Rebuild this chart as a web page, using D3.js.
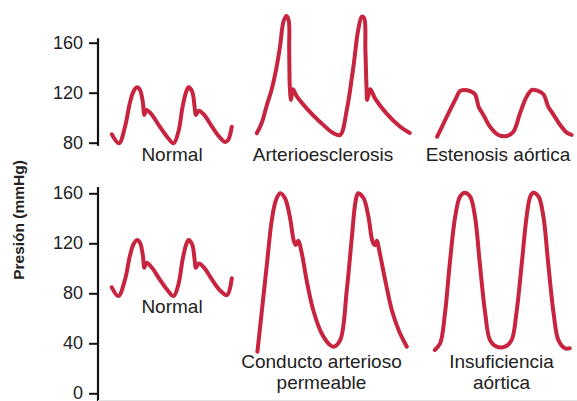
<!DOCTYPE html>
<html><head><meta charset="utf-8">
<script src="https://cdn.jsdelivr.net/npm/d3@7"></script>
<style>
html,body{margin:0;padding:0;background:#fff;}
svg{display:block;font-family:"Liberation Sans",Arial,Helvetica,sans-serif;}
</style></head>
<body><svg id="c" width="577" height="401"></svg>
<script>
// ---- data (time in s, pressure in mmHg) ----
const yLabel = "Presión (mmHg)";
const topTicks = [80, 120, 160];
const bottomTicks = [0, 40, 80, 120, 160];

const topLabels = ["Normal", "Arterioesclerosis", "Estenosis aórtica"];
const bottomLabels = [["Normal"], ["Conducto arterioso", "permeable"], ["Insuficiencia", "aórtica"]];

const normalTopT = [0.03,0.15,0.25,0.33,0.39,0.45,0.50,0.55,0.57,0.61,0.70,0.83,0.95,1.06,1.14,1.21,1.27,1.31,1.37,1.41,1.43,1.48,1.57,1.70,1.82,1.92,1.97,2.03];
const normalTopP = [86.7,79.5,92.8,111.5,120.8,124.3,122.2,111.5,102.2,106.2,102.2,92.8,84.8,79.5,88.8,108.8,120.8,124.3,120.8,108.8,102.2,105.6,102.2,92.8,84.8,80.5,82.2,92.8];

const arterioT = [0.03,0.11,0.19,0.28,0.35,0.42,0.47,0.52,0.56,0.57,0.58,0.60,0.63,0.70,0.86,1.08,1.31,1.42,1.53,1.64,1.72,1.78,1.82,1.84,1.86,1.87,1.92,2.00,2.19,2.42,2.58];
const arterioP = [87.5,95.5,108.8,123,138,158,176,181.4,178.2,154.2,124.8,114.2,122.7,116.8,107.5,96.8,87.5,86.2,106.2,140.8,170.2,180.8,179.5,154.2,122.2,114.2,122.7,115.5,103.5,92.8,87.8];

const estenosisT = [0.12,0.28,0.42,0.50,0.56,0.67,0.75,0.81,0.86,0.90,1.00,1.14,1.28,1.39,1.50,1.61,1.70,1.78,1.89,1.97,2.03,2.17,2.28,2.36];
const estenosisP = [84.8,100.8,114.2,121.3,122.2,121.3,118.8,108.8,104.5,101.3,92.8,86.2,85.4,88.8,103.5,116.8,122.2,121.8,118.8,108.8,104.5,94.2,88,86.2];

const normalBotT = [0.03,0.14,0.25,0.33,0.39,0.45,0.50,0.55,0.57,0.61,0.70,0.83,0.95,1.06,1.14,1.21,1.27,1.31,1.37,1.41,1.43,1.48,1.57,1.70,1.82,1.95,2.03];
const normalBotP = [84.8,77.8,91,109.6,119,122.6,120.4,109.6,100.4,104.4,100.4,91,83,77.8,87,107,119,122.6,119,107,100.4,103.8,100.4,91,83,78.6,92];

const conductoT = [0.04,0.11,0.20,0.28,0.35,0.42,0.50,0.58,0.65,0.68,0.72,0.78,0.86,0.97,1.11,1.25,1.31,1.42,1.53,1.61,1.68,1.72,1.81,1.89,1.96,2.00,2.03,2.08,2.17,2.28,2.40,2.53];
const conductoP = [33.3,64,104,138.6,154.6,160,156,141.3,121.3,118.6,122.1,112,90.6,66.6,48,38.6,37.3,42.6,82.6,122.6,154.6,160,156,141.3,121.3,118.6,122.1,112,90.6,66.6,49.8,37.3];

const insufT = [0.08,0.17,0.25,0.33,0.42,0.50,0.58,0.67,0.75,0.83,0.92,1.00,1.11,1.25,1.36,1.44,1.53,1.61,1.67,1.72,1.81,1.89,1.97,2.06,2.14,2.25,2.33];
const insufP = [34.6,40,64,104,141.3,157.3,160.5,157.3,141.3,104,64,42.6,37.3,37.3,42.6,64,104,141.3,157.3,160.5,157.3,141.3,104,64,42.6,36,36];

// ---- layout ----
const svg = d3.select("#c");
const red = "#c6243f";
const ink = "#222";
const axisX = 98;
const colX = [110, 255, 430];

const yTop = d3.scaleLinear().domain([80, 160]).range([142.7, 42.7]);
const yBot = d3.scaleLinear().domain([0, 160]).range([393.3, 193.3]);
const xCol = colX.map(x0 => d3.scaleLinear().domain([0, 2.7]).range([x0, x0 + 162]));

function drawAxis(scale, ticks, yFrom, yTo) {
  const g = svg.append("g").attr("transform", `translate(${axisX},0)`);
  g.call(d3.axisLeft(scale).tickValues(ticks).tickSize(9).tickSizeOuter(0).tickPadding(6));
  g.select(".domain").remove();
  g.selectAll(".tick line").attr("stroke", "#111").attr("stroke-width", 2);
  g.selectAll(".tick text").attr("fill", ink).attr("font-size", 18).attr("dy", "0.3em")
    .attr("font-family", '"Liberation Sans",Arial,sans-serif');
  g.append("line").attr("x1", 0).attr("x2", 0)
    .attr("y1", scale(yFrom)).attr("y2", scale(yTo))
    .attr("stroke", "#111").attr("stroke-width", 2.2);
}
drawAxis(yTop, topTicks, 163.5, 77.5);
drawAxis(yBot, bottomTicks, 165, -6.2);

// faint frame line at the bottom
svg.append("line").attr("x1", axisX).attr("x2", 577).attr("y1", 400.5).attr("y2", 400.5)
  .attr("stroke", "#e2e2e2").attr("stroke-width", 1);

// y title
svg.append("text").attr("transform", "translate(24,220) rotate(-90)")
  .attr("text-anchor", "middle").attr("font-weight", "bold").attr("font-size", 15.5)
  .attr("fill", ink).text(yLabel);

const waves = [
  {t: normalTopT, p: normalTopP, col: 0, y: yTop},
  {t: arterioT, p: arterioP, col: 1, y: yTop},
  {t: estenosisT, p: estenosisP, col: 2, y: yTop},
  {t: normalBotT, p: normalBotP, col: 0, y: yBot},
  {t: conductoT, p: conductoP, col: 1, y: yBot},
  {t: insufT, p: insufP, col: 2, y: yBot}
];
waves.forEach(w => {
  const x = xCol[w.col];
  const line = d3.line().x(d => x(d[0])).y(d => w.y(d[1])).curve(d3.curveCatmullRom.alpha(0.5));
  svg.append("path").datum(d3.zip(w.t, w.p)).attr("d", line)
    .attr("fill", "none").attr("stroke", red).attr("stroke-width", 4)
    .attr("stroke-linecap", "round").attr("stroke-linejoin", "round");
});

// labels
const topCenters = [172, 323, 498];
topLabels.forEach((s, i) => {
  svg.append("text").attr("x", topCenters[i]).attr("y", 161).attr("text-anchor", "middle")
    .attr("font-size", 19).attr("fill", ink).text(s);
});
const botCenters = [172, 321.5, 501.5];
const botBase = [313, 368, 368];
bottomLabels.forEach((lines, i) => {
  lines.forEach((s, j) => {
    svg.append("text").attr("x", botCenters[i]).attr("y", botBase[i] + j * 21).attr("text-anchor", "middle")
      .attr("font-size", 19).attr("fill", ink).text(s);
  });
});
</script>
</body></html>
